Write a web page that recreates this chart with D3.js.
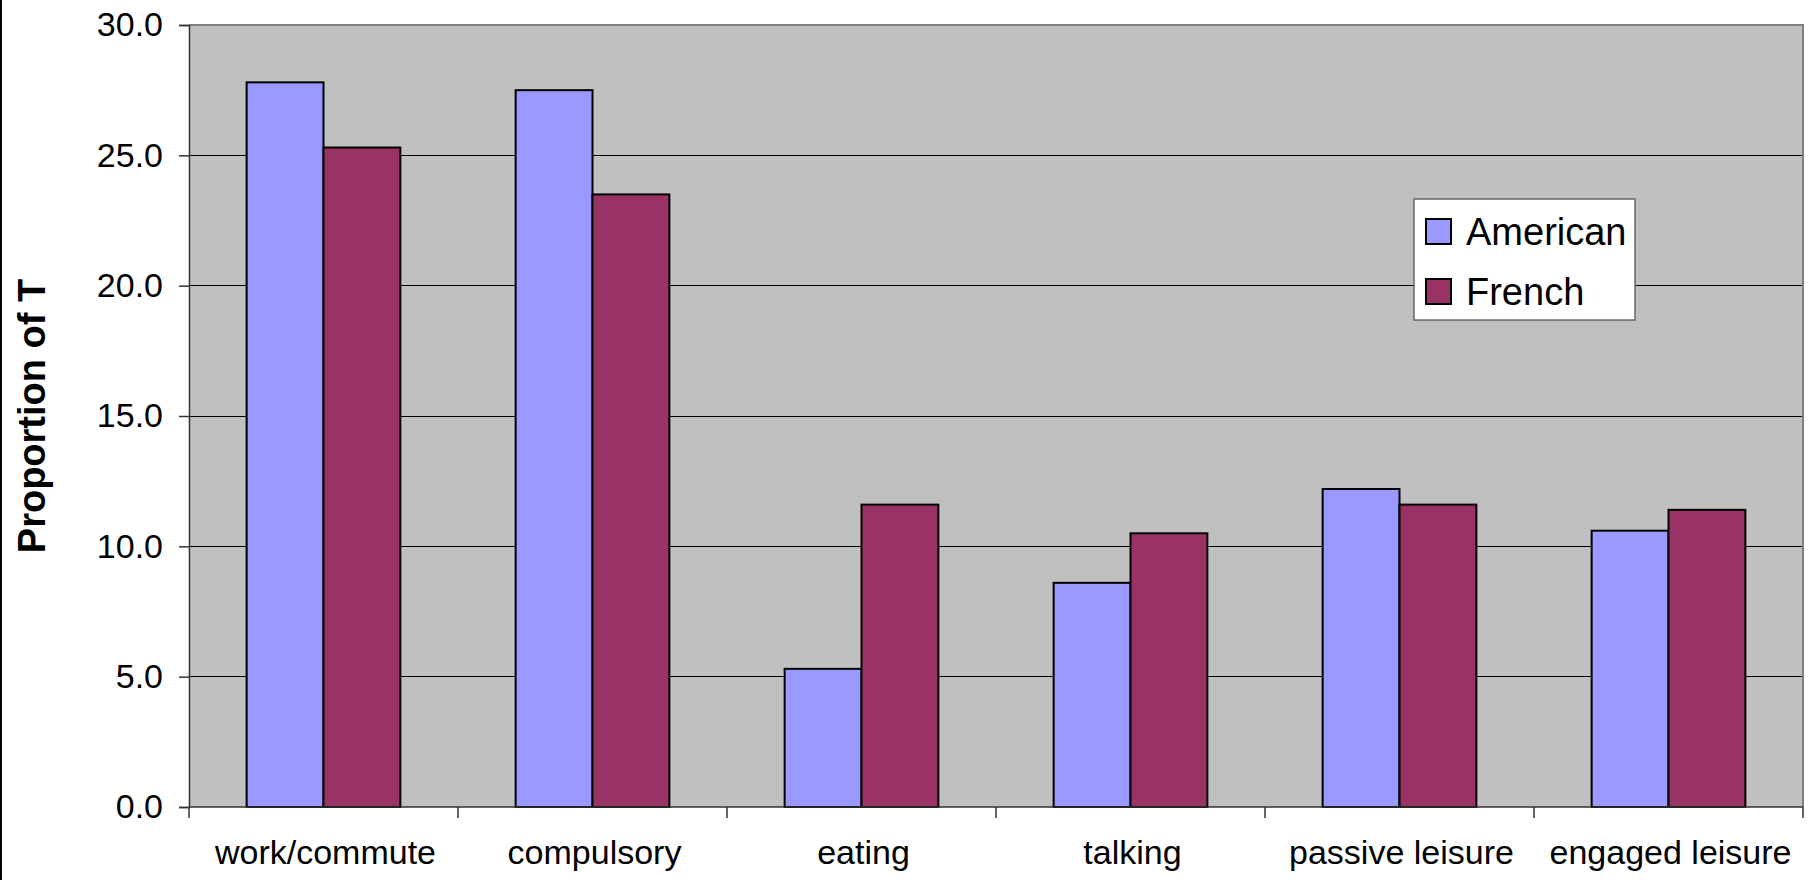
<!DOCTYPE html>
<html>
<head>
<meta charset="utf-8">
<script src="https://cdn.jsdelivr.net/npm/d3@7"></script>
<style>
  html, body { margin: 0; padding: 0; background: #ffffff; }
  svg { display: block; font-family: "Liberation Sans", Arial, sans-serif; }
</style>
</head>
<body>
<svg id="chart" width="1812" height="880"></svg>
<script>
// Share of time by activity, American vs French
const categories = ["work/commute", "compulsory", "eating", "talking", "passive leisure", "engaged leisure"];
const seriesNames = ["American", "French"];
const american = [27.8, 27.5, 5.3, 8.6, 12.2, 10.6];
const french = [25.3, 23.5, 11.6, 10.5, 11.6, 11.4];
const yTicks = [0, 5, 10, 15, 20, 25, 30];
const yTitle = "Proportion of T";
const colors = ["#9999FF", "#993366"];

const svg = d3.select("#chart");
const W = 1812, H = 880;
const plot = { left: 189, right: 1803, top: 25, bottom: 807 };

// left frame edge
svg.append("line")
  .attr("x1", 1).attr("x2", 1).attr("y1", 0).attr("y2", H)
  .attr("stroke", "#000").attr("stroke-width", 2);

const x = d3.scaleBand().domain(categories).range([plot.left, plot.right]).padding(0);
const xs = d3.scaleBand().domain(seriesNames).range([0, x.bandwidth()])
  .paddingInner(0).paddingOuter(0.75);
const y = d3.scaleLinear().domain([0, 30]).range([plot.bottom, plot.top]);

// plot background
svg.append("rect")
  .attr("x", plot.left).attr("y", plot.top)
  .attr("width", plot.right - plot.left).attr("height", plot.bottom - plot.top)
  .attr("fill", "#C0C0C0");

// gridlines
svg.append("g").selectAll("line")
  .data(yTicks.filter(d => d > 0 && d < 30))
  .join("line")
  .attr("x1", plot.left).attr("x2", plot.right)
  .attr("y1", d => y(d)).attr("y2", d => y(d))
  .attr("stroke", "#000").attr("stroke-width", 1)
  .attr("shape-rendering", "crispEdges");

// top and right border
svg.append("path")
  .attr("d", `M${plot.left},${y(30)}H${plot.right}V${plot.bottom}`)
  .attr("fill", "none").attr("stroke", "#808080").attr("stroke-width", 2)
  .attr("shape-rendering", "crispEdges");

// bars
const rows = categories.map((c, i) => ({ cat: c, vals: [american[i], french[i]] }));
const groups = svg.append("g").selectAll("g")
  .data(rows).join("g")
  .attr("transform", d => `translate(${x(d.cat)},0)`);
groups.selectAll("rect")
  .data(d => d.vals.map((v, j) => ({ series: seriesNames[j], v, j })))
  .join("rect")
  .attr("x", d => xs(d.series))
  .attr("y", d => y(d.v))
  .attr("width", xs.bandwidth())
  .attr("height", d => y(0) - y(d.v))
  .attr("fill", d => colors[d.j])
  .attr("stroke", "#000").attr("stroke-width", 2);

// y axis
const yAxis = d3.axisLeft(y).tickValues(yTicks).tickFormat(d3.format(".1f"))
  .tickSize(10).tickPadding(16);
const gy = svg.append("g").attr("transform", `translate(${plot.left},0)`).call(yAxis);
gy.select(".domain").attr("stroke", "#333").attr("stroke-width", 1.5);
gy.selectAll(".tick line").attr("stroke", "#333").attr("stroke-width", 1.5);
gy.selectAll(".tick text")
  .attr("font-family", "Liberation Sans, Arial, sans-serif")
  .attr("font-size", 34).attr("fill", "#000");

// x axis: baseline, ticks at category boundaries, labels at centers
svg.append("line")
  .attr("x1", plot.left).attr("x2", plot.right)
  .attr("y1", y(0)).attr("y2", y(0))
  .attr("stroke", "#333").attr("stroke-width", 1.5);
const bounds = categories.map(c => x(c)).concat([x.range()[1]]);
svg.append("g").selectAll("line")
  .data(bounds).join("line")
  .attr("x1", d => d).attr("x2", d => d)
  .attr("y1", y(0)).attr("y2", y(0) + 11)
  .attr("stroke", "#333").attr("stroke-width", 1.5);
svg.append("g").selectAll("text")
  .data(categories).join("text")
  .attr("x", d => x(d) + x.bandwidth() / 2 + 2)
  .attr("y", 864)
  .attr("text-anchor", "middle")
  .attr("font-size", 34).attr("fill", "#000")
  .text(d => d);

// y axis title
svg.append("text")
  .attr("transform", `translate(45,${(plot.top + plot.bottom) / 2}) rotate(-90)`)
  .attr("text-anchor", "middle")
  .attr("font-size", 38).attr("font-weight", "bold").attr("fill", "#000")
  .text(yTitle);

// legend
const lg = svg.append("g").attr("transform", "translate(1414,199)");
lg.append("rect").attr("width", 221).attr("height", 121)
  .attr("fill", "#fff").attr("stroke", "#666").attr("stroke-width", 1.5);
const items = lg.selectAll("g.item").data(seriesNames).join("g")
  .attr("class", "item")
  .attr("transform", (d, i) => `translate(12,${20 + i * 60})`);
items.append("rect").attr("width", 25).attr("height", 25)
  .attr("fill", (d, i) => colors[i]).attr("stroke", "#000").attr("stroke-width", 2);
items.append("text").attr("x", 40).attr("y", 26)
  .attr("font-size", 38).attr("fill", "#000")
  .text(d => d);
</script>
</body>
</html>
